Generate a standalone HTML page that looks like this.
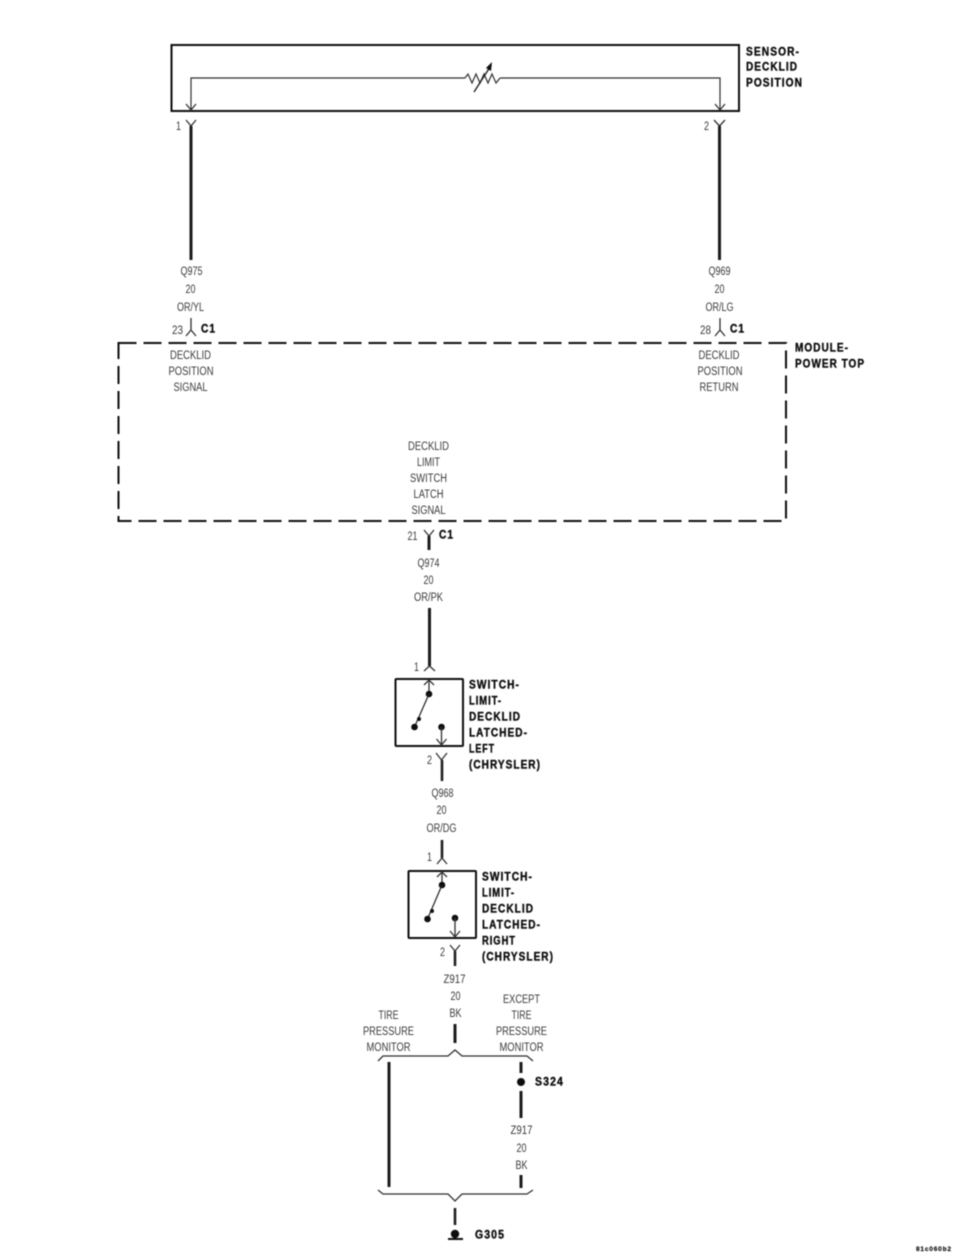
<!DOCTYPE html>
<html><head><meta charset="utf-8"><style>
html,body{margin:0;padding:0;background:#fff}
svg{display:block}
.t{font-family:"Liberation Sans",sans-serif;font-size:11.5px;fill:#3a3a3a;text-anchor:middle;dominant-baseline:central;transform:translate(.5px,2px)}
.b{font-family:"Liberation Sans",sans-serif;font-size:11.5px;letter-spacing:1.2px;font-weight:bold;fill:#111;stroke:#111;stroke-width:.4;dominant-baseline:central;transform:translateY(.5px)}
.n{fill:none;stroke:#333;stroke-width:1.2}
.w{fill:none;stroke:#1a1a1a;stroke-width:3}
.k{fill:none;stroke:#111;stroke-width:2}
.c{fill:none;stroke:#333;stroke-width:1.3}
</style></head><body>
<svg width="960" height="1257" viewBox="0 0 960 1257" xmlns="http://www.w3.org/2000/svg">
<defs><filter id="f" x="-2%" y="-2%" width="104%" height="104%"><feGaussianBlur stdDeviation="0.45"/></filter></defs>
<g filter="url(#f)">
<!-- sensor -->
<rect x="171.500" y="45" width="567.500" height="66" class="k"/>
<path d="M191 110V78H465M500 78H720V110" class="n"/>
<path d="M186 104L191 110L196 104M715 104L720 110L725 104" class="c"/>
<path d="M465 78l3-4 4 9 4-9 4 9 4-9 4 9 4-9 4 9 4-5" class="n"/>
<path d="M474 92L490 67" fill="none" stroke="#222" stroke-width="1.400"/>
<path d="M492 62L486 68L491 71Z" fill="#111"/>
<path d="M186 120L191 126L196 120M714 120L719.500 126L725 120" class="c"/>
<path d="M191 126V260M719.500 126V260" class="w"/>
<text class="t" x="178" y="125" textLength="5" lengthAdjust="spacingAndGlyphs">1</text>
<text class="t" x="706" y="125" textLength="5" lengthAdjust="spacingAndGlyphs">2</text>
<text class="b" x="746" y="52" textLength="54" lengthAdjust="spacingAndGlyphs">SENSOR-</text>
<text class="b" x="746" y="67" textLength="52" lengthAdjust="spacingAndGlyphs">DECKLID</text>
<text class="b" x="746" y="83" textLength="57" lengthAdjust="spacingAndGlyphs">POSITION</text>
<!-- wire labels top -->
<text class="t" x="191" y="270" textLength="22" lengthAdjust="spacingAndGlyphs">Q975</text>
<text class="t" x="190" y="288" textLength="10" lengthAdjust="spacingAndGlyphs">20</text>
<text class="t" x="190" y="306" textLength="27" lengthAdjust="spacingAndGlyphs">OR/YL</text>
<text class="t" x="719" y="270" textLength="22" lengthAdjust="spacingAndGlyphs">Q969</text>
<text class="t" x="719" y="288" textLength="10" lengthAdjust="spacingAndGlyphs">20</text>
<text class="t" x="719" y="306" textLength="28" lengthAdjust="spacingAndGlyphs">OR/LG</text>
<!-- module connectors -->
<path d="M191 318V330M186 336L191 330L196 336M720 318V330M715 336L720 330L725 336" class="c" stroke-width="1.500"/>
<text class="t" x="177" y="329" textLength="11" lengthAdjust="spacingAndGlyphs">23</text>
<text class="t" x="705" y="329" textLength="11" lengthAdjust="spacingAndGlyphs">28</text>
<text class="b" x="201" y="329" textLength="15" lengthAdjust="spacingAndGlyphs">C1</text>
<text class="b" x="730" y="329" textLength="15" lengthAdjust="spacingAndGlyphs">C1</text>
<!-- dashed module -->
<rect x="118.500" y="343" width="667.500" height="178" fill="none" stroke="#111" stroke-width="2" stroke-dasharray="18 7"/>
<text class="t" x="190" y="354" textLength="41" lengthAdjust="spacingAndGlyphs">DECKLID</text>
<text class="t" x="190.500" y="370" textLength="45" lengthAdjust="spacingAndGlyphs">POSITION</text>
<text class="t" x="190" y="386" textLength="34" lengthAdjust="spacingAndGlyphs">SIGNAL</text>
<text class="t" x="718.500" y="354" textLength="41" lengthAdjust="spacingAndGlyphs">DECKLID</text>
<text class="t" x="719.500" y="370" textLength="45" lengthAdjust="spacingAndGlyphs">POSITION</text>
<text class="t" x="718.500" y="386" textLength="39" lengthAdjust="spacingAndGlyphs">RETURN</text>
<text class="b" x="795" y="348" textLength="54" lengthAdjust="spacingAndGlyphs">MODULE-</text>
<text class="b" x="795" y="364" textLength="70" lengthAdjust="spacingAndGlyphs">POWER TOP</text>
<text class="t" x="428" y="445" textLength="41" lengthAdjust="spacingAndGlyphs">DECKLID</text>
<text class="t" x="428" y="461" textLength="23" lengthAdjust="spacingAndGlyphs">LIMIT</text>
<text class="t" x="428" y="477" textLength="37" lengthAdjust="spacingAndGlyphs">SWITCH</text>
<text class="t" x="428" y="493" textLength="30" lengthAdjust="spacingAndGlyphs">LATCH</text>
<text class="t" x="428" y="509" textLength="34" lengthAdjust="spacingAndGlyphs">SIGNAL</text>
<!-- C1 bottom -->
<path d="M424 530L429 536L434 530" class="c"/>
<path d="M429 536V550" class="w"/>
<text class="t" x="412" y="535" textLength="10" lengthAdjust="spacingAndGlyphs">21</text>
<text class="b" x="439" y="535" textLength="15" lengthAdjust="spacingAndGlyphs">C1</text>
<text class="t" x="428" y="562" textLength="22" lengthAdjust="spacingAndGlyphs">Q974</text>
<text class="t" x="428" y="579" textLength="10" lengthAdjust="spacingAndGlyphs">20</text>
<text class="t" x="428" y="596" textLength="29" lengthAdjust="spacingAndGlyphs">OR/PK</text>
<path d="M429.500 608V666" class="w"/>
<path d="M424 671L429.500 666L435 671" class="c"/>
<text class="t" x="416" y="666" textLength="5" lengthAdjust="spacingAndGlyphs">1</text>
<!-- switch 1 -->
<rect x="395.500" y="679" width="67.500" height="67" rx="1" class="k"/>
<path d="M429 679V694M424 685L429 680L434 685" class="c"/>
<circle cx="429" cy="694" r="3.300" fill="#111"/>
<path d="M429 694L414.500 727" fill="none" stroke="#222" stroke-width="1.200"/>
<circle cx="414.500" cy="727" r="3.300" fill="#111"/>
<circle cx="419" cy="719" r="2" fill="#111"/>
<circle cx="441.500" cy="727" r="3.300" fill="#111"/>
<path d="M441.500 727V745M436.500 739L441.500 745L446.500 739" class="c"/>
<path d="M436 753L441.500 760L447 753" class="c"/>
<path d="M442 760V781" class="w" style="stroke-width:2.500"/>
<text class="t" x="429" y="759" textLength="5" lengthAdjust="spacingAndGlyphs">2</text>
<text class="b" x="469" y="685" textLength="51" lengthAdjust="spacingAndGlyphs">SWITCH-</text>
<text class="b" x="469" y="701" textLength="33" lengthAdjust="spacingAndGlyphs">LIMIT-</text>
<text class="b" x="469" y="717" textLength="52" lengthAdjust="spacingAndGlyphs">DECKLID</text>
<text class="b" x="469" y="733" textLength="59" lengthAdjust="spacingAndGlyphs">LATCHED-</text>
<text class="b" x="469" y="749" textLength="26" lengthAdjust="spacingAndGlyphs">LEFT</text>
<text class="b" x="469" y="765" textLength="72" lengthAdjust="spacingAndGlyphs">(CHRYSLER)</text>
<text class="t" x="442" y="792" textLength="22" lengthAdjust="spacingAndGlyphs">Q968</text>
<text class="t" x="441" y="809" textLength="10" lengthAdjust="spacingAndGlyphs">20</text>
<text class="t" x="441" y="827" textLength="30" lengthAdjust="spacingAndGlyphs">OR/DG</text>
<path d="M442 840V858" class="w" style="stroke-width:2.500"/>
<path d="M437 864L442 858L447 864" class="c"/>
<text class="t" x="429" y="856" textLength="5" lengthAdjust="spacingAndGlyphs">1</text>
<!-- switch 2 -->
<rect x="408.500" y="871" width="67.500" height="67" rx="1" class="k"/>
<path d="M442 871V885M437 877L442 872L447 877" class="c"/>
<circle cx="442" cy="885" r="3.300" fill="#111"/>
<path d="M442 885L427.500 919" fill="none" stroke="#222" stroke-width="1.200"/>
<circle cx="427.500" cy="919" r="3.300" fill="#111"/>
<circle cx="432" cy="911" r="2" fill="#111"/>
<circle cx="455" cy="918" r="3.300" fill="#111"/>
<path d="M455 918V937M450 931L455 937L460 931" class="c"/>
<path d="M450 945L455 951L460 945" class="c"/>
<path d="M455 951V966" class="w" style="stroke-width:2.500"/>
<text class="t" x="442" y="951" textLength="5" lengthAdjust="spacingAndGlyphs">2</text>
<text class="b" x="482" y="877" textLength="51" lengthAdjust="spacingAndGlyphs">SWITCH-</text>
<text class="b" x="482" y="893" textLength="33" lengthAdjust="spacingAndGlyphs">LIMIT-</text>
<text class="b" x="482" y="909" textLength="52" lengthAdjust="spacingAndGlyphs">DECKLID</text>
<text class="b" x="482" y="925" textLength="59" lengthAdjust="spacingAndGlyphs">LATCHED-</text>
<text class="b" x="482" y="941" textLength="34" lengthAdjust="spacingAndGlyphs">RIGHT</text>
<text class="b" x="482" y="957" textLength="72" lengthAdjust="spacingAndGlyphs">(CHRYSLER)</text>
<text class="t" x="454" y="978" textLength="22" lengthAdjust="spacingAndGlyphs">Z917</text>
<text class="t" x="455" y="995" textLength="10" lengthAdjust="spacingAndGlyphs">20</text>
<text class="t" x="455" y="1012" textLength="12" lengthAdjust="spacingAndGlyphs">BK</text>
<path d="M455 1024V1043" class="w"/>
<!-- splice labels -->
<text class="t" x="388" y="1014" textLength="20" lengthAdjust="spacingAndGlyphs">TIRE</text>
<text class="t" x="388" y="1030" textLength="51" lengthAdjust="spacingAndGlyphs">PRESSURE</text>
<text class="t" x="388" y="1046" textLength="44" lengthAdjust="spacingAndGlyphs">MONITOR</text>
<text class="t" x="521" y="998" textLength="37" lengthAdjust="spacingAndGlyphs">EXCEPT</text>
<text class="t" x="521" y="1014" textLength="20" lengthAdjust="spacingAndGlyphs">TIRE</text>
<text class="t" x="521" y="1030" textLength="51" lengthAdjust="spacingAndGlyphs">PRESSURE</text>
<text class="t" x="521" y="1046" textLength="44" lengthAdjust="spacingAndGlyphs">MONITOR</text>
<path d="M378 1061L383 1056H448L455 1050L462 1056H527L533 1061" class="c"/>
<path d="M389 1062V1187" class="w"/>
<path d="M521 1062V1073M521 1091V1118M521 1175V1188" class="w"/>
<circle cx="521" cy="1082" r="4" fill="#111"/>
<text class="b" x="535" y="1082" textLength="29" lengthAdjust="spacingAndGlyphs">S324</text>
<text class="t" x="521" y="1129" textLength="22" lengthAdjust="spacingAndGlyphs">Z917</text>
<text class="t" x="521" y="1147" textLength="10" lengthAdjust="spacingAndGlyphs">20</text>
<text class="t" x="521" y="1164" textLength="12" lengthAdjust="spacingAndGlyphs">BK</text>
<path d="M378 1190L383 1194H448L455 1201L462 1194H527L533 1190" class="c"/>
<path d="M455 1208V1225" class="w" style="stroke-width:2.500"/>
<circle cx="455" cy="1234" r="4.200" fill="#111"/>
<path d="M448 1239H463" fill="none" stroke="#111" stroke-width="2"/>
<text class="b" x="475" y="1235" textLength="30" lengthAdjust="spacingAndGlyphs">G305</text>
<text class="b" x="916" y="1249" style="font-size:6.500px;letter-spacing:0;stroke-width:.2" textLength="35" lengthAdjust="spacing">81c060b2</text>
</g>
</svg>
</body></html>
